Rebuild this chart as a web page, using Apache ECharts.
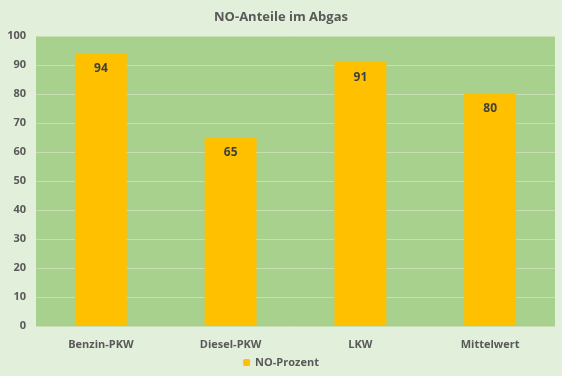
<!DOCTYPE html>
<html>
<head>
<meta charset="utf-8">
<script src="https://cdn.jsdelivr.net/npm/echarts@6/dist/echarts.min.js"></script>
<style>
  html, body { margin: 0; padding: 0; background: #E2EFDA; }
  #chart { width: 562px; height: 376px; }
</style>
</head>
<body>
<div id="chart"></div>
<script>
var categories = ["Benzin-PKW", "Diesel-PKW", "LKW", "Mittelwert"];
var noProzent = [94, 65, 91, 80];

var chart = echarts.init(document.getElementById("chart"));
var font = "'Open Sans', 'Noto Sans', sans-serif";
var option = {
  backgroundColor: "#E2EFDA",
  title: {
    text: "NO-Anteile im Abgas",
    left: "center",
    top: 6,
    textStyle: { color: "#595959", fontSize: 13, fontWeight: "bold", fontFamily: font }
  },
  grid: { left: 36, right: 7, top: 36, bottom: 50 },
  legend: {
    bottom: 3,
    itemWidth: 7,
    itemHeight: 7,
    itemGap: 4,
    data: ["NO-Prozent"],
    textStyle: { color: "#595959", fontSize: 11, fontWeight: "bold", fontFamily: font }
  },
  xAxis: {
    type: "category",
    data: categories,
    axisTick: { show: false },
    axisLine: { show: false },
    axisLabel: { color: "#595959", fontSize: 11, fontWeight: "bold", fontFamily: font, margin: 13 }
  },
  yAxis: {
    type: "value",
    min: 0,
    max: 100,
    interval: 10,
    axisLine: { show: false },
    axisTick: { show: false },
    axisLabel: { color: "#595959", fontSize: 11, fontWeight: "bold", fontFamily: font, margin: 10 },
    splitLine: { lineStyle: { color: "#C6E0B4", width: 1 } },
    splitArea: { show: true, areaStyle: { color: ["#A9D18E"] } }
  },
  series: [
    {
      name: "NO-Prozent",
      type: "bar",
      data: noProzent,
      barWidth: "40%",
      itemStyle: { color: "#FFC000" },
      label: {
        show: true,
        position: "insideTop",
        distance: 9,
        color: "#404040",
        fontSize: 12,
        fontWeight: "bold",
        fontFamily: font
      }
    }
  ]
};
chart.setOption(option);
</script>
</body>
</html>
